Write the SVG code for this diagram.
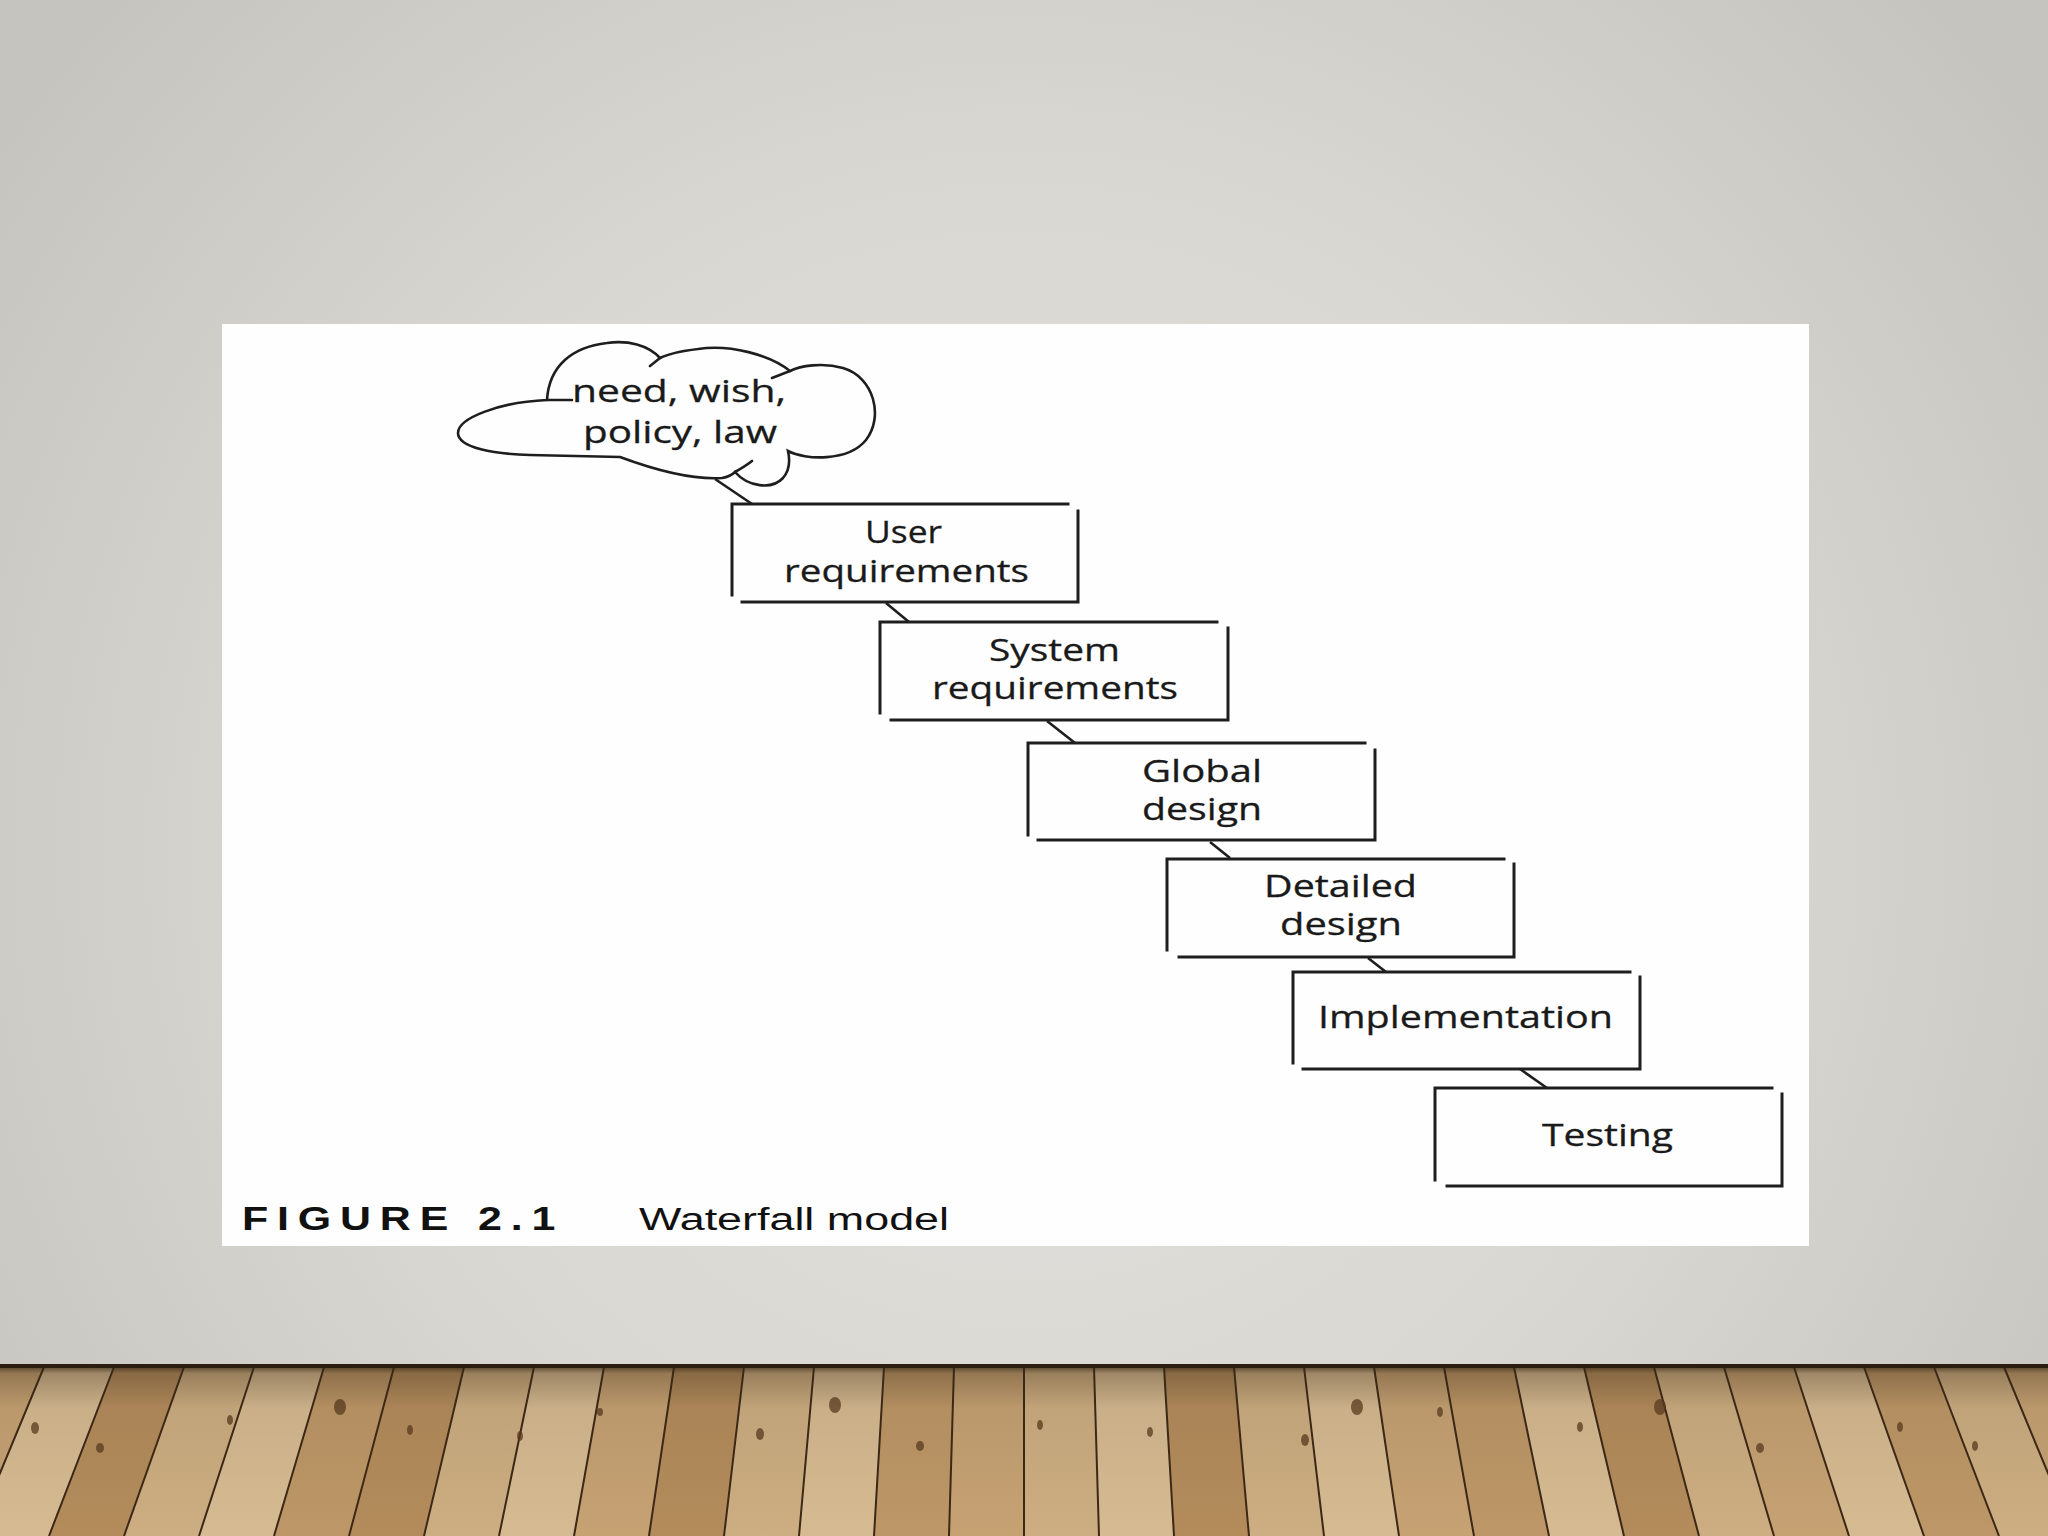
<svg xmlns="http://www.w3.org/2000/svg" width="2048" height="1536" viewBox="0 0 2048 1536">
<defs>
<radialGradient id="bg" cx="1024" cy="850" r="1250" gradientUnits="userSpaceOnUse">
<stop offset="0" stop-color="#e3e2de"/>
<stop offset="0.55" stop-color="#d8d7d2"/>
<stop offset="1" stop-color="#c5c4bf"/>
</radialGradient>
<linearGradient id="shade" x1="0" y1="1365" x2="0" y2="1536" gradientUnits="userSpaceOnUse">
<stop offset="0" stop-color="#2e2012" stop-opacity="0.85"/>
<stop offset="0.05" stop-color="#3a2a18" stop-opacity="0.35"/>
<stop offset="0.25" stop-color="#3a2a18" stop-opacity="0.08"/>
<stop offset="1" stop-color="#3a2a18" stop-opacity="0"/>
</linearGradient>
<style>
.box{fill:none;stroke:#1e1e1e;stroke-width:3;stroke-linecap:square}
.cl{fill:none;stroke:#1e1e1e;stroke-width:2.6;stroke-linecap:round}
.con{stroke:#1e1e1e;stroke-width:2.6;fill:none}
.t{font-family:"Open Sans","Noto Sans","DejaVu Sans",sans-serif;font-size:31px;fill:#1a1a1a;stroke:#1a1a1a;stroke-width:0.3}
.cap{font-family:"Liberation Sans",Arial,sans-serif;fill:#111}
.a{fill:#d6bb92}.b{fill:#c6a273}.c{fill:#b48c5c}.d{fill:#cdae82}.e{fill:#bd9767}
.seam{stroke:#3b2816;stroke-width:2;fill:none}
.knot{fill:#5a3b1f;opacity:0.75}
</style>
</defs>

<rect x="0" y="0" width="2048" height="1536" fill="url(#bg)"/>

<g id="floor">
<rect x="0" y="1365" width="2048" height="171" fill="#c09c6d"/>
<polygon class="b" points="-26,1367 44,1367 -26,1536 -101,1536"/>
<polygon class="a" points="44,1367 114,1367 49,1536 -26,1536"/>
<polygon class="c" points="114,1367 184,1367 124,1536 49,1536"/>
<polygon class="d" points="184,1367 254,1367 199,1536 124,1536"/>
<polygon class="a" points="254,1367 324,1367 274,1536 199,1536"/>
<polygon class="e" points="324,1367 394,1367 349,1536 274,1536"/>
<polygon class="c" points="394,1367 464,1367 424,1536 349,1536"/>
<polygon class="d" points="464,1367 534,1367 499,1536 424,1536"/>
<polygon class="a" points="534,1367 604,1367 574,1536 499,1536"/>
<polygon class="b" points="604,1367 674,1367 649,1536 574,1536"/>
<polygon class="c" points="674,1367 744,1367 724,1536 649,1536"/>
<polygon class="d" points="744,1367 814,1367 799,1536 724,1536"/>
<polygon class="a" points="814,1367 884,1367 874,1536 799,1536"/>
<polygon class="e" points="884,1367 954,1367 949,1536 874,1536"/>
<polygon class="b" points="954,1367 1024,1367 1024,1536 949,1536"/>
<polygon class="d" points="1024,1367 1094,1367 1099,1536 1024,1536"/>
<polygon class="a" points="1094,1367 1164,1367 1174,1536 1099,1536"/>
<polygon class="c" points="1164,1367 1234,1367 1249,1536 1174,1536"/>
<polygon class="d" points="1234,1367 1304,1367 1324,1536 1249,1536"/>
<polygon class="a" points="1304,1367 1374,1367 1399,1536 1324,1536"/>
<polygon class="b" points="1374,1367 1444,1367 1474,1536 1399,1536"/>
<polygon class="e" points="1444,1367 1514,1367 1549,1536 1474,1536"/>
<polygon class="a" points="1514,1367 1584,1367 1624,1536 1549,1536"/>
<polygon class="c" points="1584,1367 1654,1367 1699,1536 1624,1536"/>
<polygon class="d" points="1654,1367 1724,1367 1774,1536 1699,1536"/>
<polygon class="b" points="1724,1367 1794,1367 1849,1536 1774,1536"/>
<polygon class="a" points="1794,1367 1864,1367 1924,1536 1849,1536"/>
<polygon class="e" points="1864,1367 1934,1367 1999,1536 1924,1536"/>
<polygon class="d" points="1934,1367 2004,1367 2074,1536 1999,1536"/>
<polygon class="b" points="2004,1367 2074,1367 2149,1536 2074,1536"/>
<path class="seam" d="M44,1367 L-26,1536 M114,1367 L49,1536 M184,1367 L124,1536 M254,1367 L199,1536 M324,1367 L274,1536 M394,1367 L349,1536 M464,1367 L424,1536 M534,1367 L499,1536 M604,1367 L574,1536 M674,1367 L649,1536 M744,1367 L724,1536 M814,1367 L799,1536 M884,1367 L874,1536 M954,1367 L949,1536 M1024,1367 L1024,1536 M1094,1367 L1099,1536 M1164,1367 L1174,1536 M1234,1367 L1249,1536 M1304,1367 L1324,1536 M1374,1367 L1399,1536 M1444,1367 L1474,1536 M1514,1367 L1549,1536 M1584,1367 L1624,1536 M1654,1367 L1699,1536 M1724,1367 L1774,1536 M1794,1367 L1849,1536 M1864,1367 L1924,1536 M1934,1367 L1999,1536 M2004,1367 L2074,1536"/>
<g class="knot">
<ellipse cx="35" cy="1428" rx="4" ry="6"/><ellipse cx="100" cy="1448" rx="4" ry="5"/><ellipse cx="230" cy="1420" rx="3" ry="5"/>
<ellipse cx="340" cy="1407" rx="6" ry="8"/><ellipse cx="410" cy="1430" rx="3" ry="5"/><ellipse cx="520" cy="1436" rx="3" ry="5"/>
<ellipse cx="600" cy="1412" rx="3" ry="4"/><ellipse cx="760" cy="1434" rx="4" ry="6"/><ellipse cx="835" cy="1405" rx="6" ry="8"/>
<ellipse cx="920" cy="1446" rx="4" ry="5"/><ellipse cx="1040" cy="1425" rx="3" ry="5"/><ellipse cx="1150" cy="1432" rx="3" ry="5"/>
<ellipse cx="1305" cy="1440" rx="4" ry="6"/><ellipse cx="1357" cy="1407" rx="6" ry="8"/><ellipse cx="1440" cy="1412" rx="3" ry="5"/>
<ellipse cx="1580" cy="1427" rx="3" ry="5"/><ellipse cx="1660" cy="1407" rx="6" ry="8"/><ellipse cx="1760" cy="1448" rx="4" ry="5"/>
<ellipse cx="1900" cy="1427" rx="3" ry="5"/><ellipse cx="1975" cy="1446" rx="3" ry="5"/>
</g>
<rect x="0" y="1365" width="2048" height="171" fill="url(#shade)"/>
<rect x="0" y="1364" width="2048" height="4" fill="#2b1e10"/>
</g>

<rect id="panel" x="222" y="324" width="1587" height="922" fill="#fefefe"/>

<g id="connectors">
<line class="con" x1="715" y1="479" x2="752" y2="504"/>
<line class="con" x1="886" y1="603" x2="909" y2="622"/>
<line class="con" x1="1047" y1="721" x2="1075" y2="743"/>
<line class="con" x1="1210" y1="842" x2="1230" y2="858"/>
<line class="con" x1="1368" y1="958" x2="1386" y2="972"/>
<line class="con" x1="1520" y1="1069" x2="1547" y2="1088"/>
</g>

<g id="cloud">
<path class="cl" d="M547,400 C500,402 458,418 458,433 C458,448 495,454 530,455 L620,457 C655,470 690,480 722,478 C728,477 732,475 735,472 C748,487 772,490 783,478 C790,470 790,460 788,451 C805,460 848,462 866,440 C884,417 874,377 843,368 C822,362 800,366 790,371 C770,355 730,344 698,349 C682,351 668,354 660,358 C648,345 628,340 607,343 C572,347 549,366 547,400"/>
<path class="cl" d="M547,400 L572,400 M660,358 L650,366 M790,371 L772,378 M735,472 C742,468 747,465 752,461"/>
<text class="t" x="572" y="402" textLength="214" lengthAdjust="spacingAndGlyphs">need, wish,</text>
<text class="t" x="583" y="443" textLength="194" lengthAdjust="spacingAndGlyphs">policy, law</text>
</g>

<g id="user-requirements">
<path class="box" d="M732,595 V504 H1068 M1078,511 V602 M742,602 H1078"/>
<text class="t" x="865" y="543" textLength="77" lengthAdjust="spacingAndGlyphs">User</text>
<text class="t" x="784" y="582" textLength="245" lengthAdjust="spacingAndGlyphs">requirements</text>
</g>

<g id="system-requirements">
<path class="box" d="M880,713 V622 H1217 M1228,628 V720 M891,720 H1228"/>
<text class="t" x="989" y="661" textLength="131" lengthAdjust="spacingAndGlyphs">System</text>
<text class="t" x="932" y="699" textLength="246" lengthAdjust="spacingAndGlyphs">requirements</text>
</g>

<g id="global-design">
<path class="box" d="M1028,835 V743 H1365 M1375,750 V840 M1038,840 H1375"/>
<text class="t" x="1142" y="782" textLength="120" lengthAdjust="spacingAndGlyphs">Global</text>
<text class="t" x="1142" y="820" textLength="120" lengthAdjust="spacingAndGlyphs">design</text>
</g>

<g id="detailed-design">
<path class="box" d="M1167,950 V859 H1504 M1514,864 V957 M1179,957 H1514"/>
<text class="t" x="1264" y="897" textLength="153" lengthAdjust="spacingAndGlyphs">Detailed</text>
<text class="t" x="1280" y="935" textLength="122" lengthAdjust="spacingAndGlyphs">design</text>
</g>

<g id="implementation">
<path class="box" d="M1293,1063 V972 H1630 M1640,977 V1069 M1303,1069 H1640"/>
<text class="t" x="1318" y="1028" textLength="295" lengthAdjust="spacingAndGlyphs">Implementation</text>
</g>

<g id="testing">
<path class="box" d="M1435,1180 V1088 H1772 M1782,1094 V1186 M1447,1186 H1782"/>
<text class="t" x="1542" y="1146" textLength="131" lengthAdjust="spacingAndGlyphs">Testing</text>
</g>

<g id="caption">
<text class="cap" transform="translate(242,1230) scale(1.3,1)" x="0" y="0" font-size="33" font-weight="bold" textLength="241" lengthAdjust="spacing">FIGURE 2.1</text>
<text class="cap" x="639" y="1230" font-size="31" textLength="310" lengthAdjust="spacingAndGlyphs">Waterfall model</text>
</g>
</svg>
